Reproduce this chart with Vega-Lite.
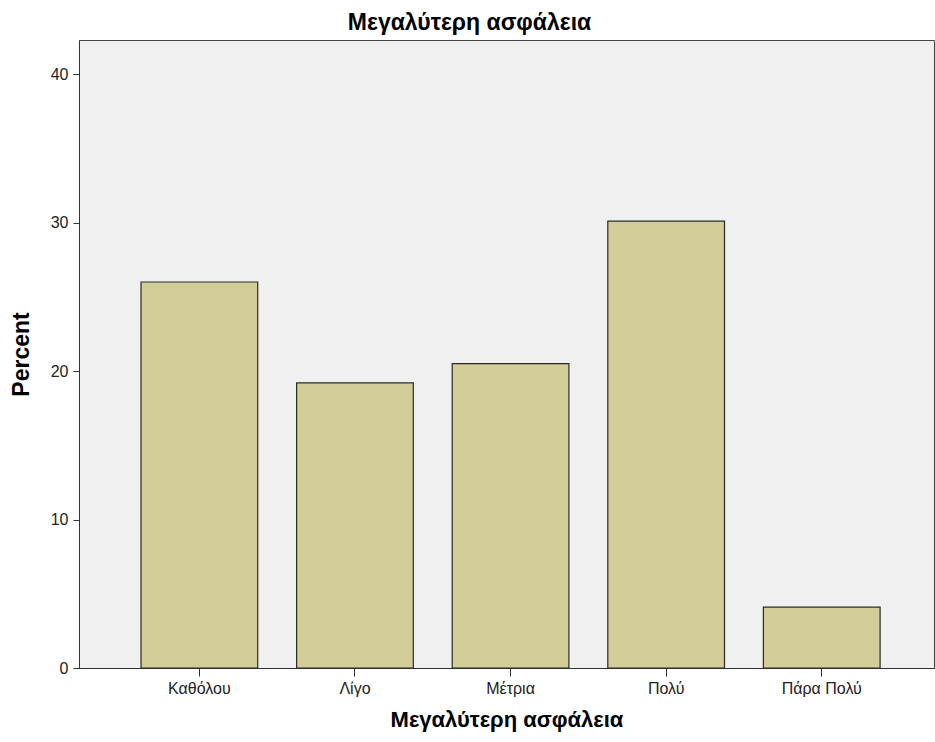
{
  "$schema": "https://vega.github.io/schema/vega-lite/v6.json",
  "width": 855,
  "height": 628,
  "autosize": "none",
  "padding": {"left": 79, "top": 40, "right": 1, "bottom": 74},
  "background": "white",
  "title": {"text": "Μεγαλύτερη ασφάλεια", "font": "Liberation Sans", "fontSize": 23, "fontWeight": "bold", "color": "#000000", "offset": 5, "dx": -37},
  "config": {
    "view": {"fill": "#F0F0F0", "stroke": "#444444", "strokeWidth": 1},
    "axis": {"labelFont": "Liberation Sans", "titleFont": "Liberation Sans", "labelFontSize": 16, "labelColor": "#222222", "titleColor": "#000000", "domainColor": "#333333", "tickColor": "#333333", "grid": false}
  },
  "data": {"values": [
    {"cat": "Καθόλου", "pct": 26.0},
    {"cat": "Λίγο", "pct": 19.2},
    {"cat": "Μέτρια", "pct": 20.5},
    {"cat": "Πολύ", "pct": 30.1},
    {"cat": "Πάρα Πολύ", "pct": 4.1}
  ]},
  "mark": {"type": "bar", "fill": "#D3CE97", "stroke": "#2a2a2a", "strokeWidth": 1.2},
  "encoding": {
    "x": {"field": "cat", "type": "nominal", "sort": null,
      "scale": {"paddingInner": 0.25, "paddingOuter": 0.3725, "align": 0.535},
      "axis": {"title": "Μεγαλύτερη ασφάλεια", "titleFontSize": 22, "titleFontWeight": "bold", "titlePadding": 13, "labelAngle": 0, "tickSize": 8, "labelPadding": 4}},
    "y": {"field": "pct", "type": "quantitative",
      "scale": {"domain": [0, 42.3], "nice": false},
      "axis": {"title": "Percent", "titleFontSize": 23, "titleFontWeight": "bold", "titlePadding": 17, "values": [0, 10, 20, 30, 40], "tickSize": 6, "labelPadding": 5}}
  }
}
